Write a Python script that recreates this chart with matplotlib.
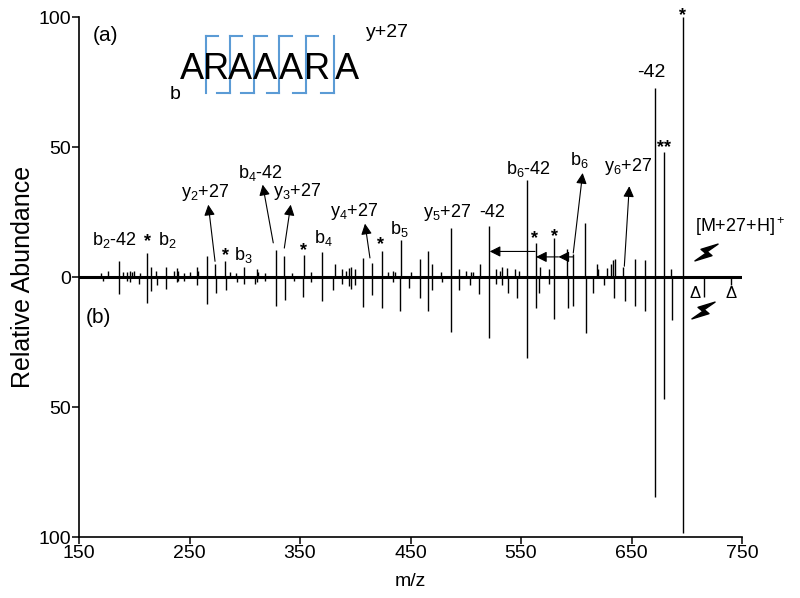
import numpy as np
import matplotlib
matplotlib.use('Agg')
import matplotlib.pyplot as plt
from matplotlib.path import Path
from matplotlib.markers import MarkerStyle
from matplotlib.transforms import Affine2D

plt.rcParams['font.family'] = ['Liberation Sans', 'DejaVu Sans']
plt.rcParams['mathtext.fontset'] = 'custom'
plt.rcParams['mathtext.rm'] = 'Liberation Sans'
plt.rcParams['mathtext.it'] = 'Liberation Sans:italic'

# spectrum (a) - top
mz_top = [170, 176, 186.5, 190, 193, 196, 198, 200, 205, 211.3, 214.9, 220, 228.4, 236,
          238.4, 240, 245, 250, 256.5, 258, 265.6, 273, 282.4, 287, 292, 299.3, 310.8, 312,
          318, 328, 335.8, 343, 353.3, 360, 370.2, 381.7, 387.7, 392, 394, 396.5, 400,
          407.3, 414.9, 424.2, 430, 434, 436, 441.4, 450, 458.6, 466.1, 469.7, 478, 486.6,
          494, 500, 505, 507, 512.9, 521.3, 527, 531, 533, 537, 545, 548, 555.1, 563.6, 567,
          575, 580.2, 591.2, 597.3, 607.9, 618.5, 620, 628, 631, 633, 635, 642, 653.2,
          662.2, 671.3, 679.4, 686, 696.3]
int_top = [1.5, 2.5, 6.1, 2, 2, 2.5, 2, 2.5, 1.5, 9.3, 4, 2.5, 4, 2.5,
           3.7, 2.5, 1.5, 2, 4, 2.5, 8, 5, 6.4, 2, 1.5, 4, 3, 2,
           1.5, 10.5, 8, 1.5, 8.5, 2, 9.8, 5, 3, 2.5, 3.5, 4, 3,
           7.3, 5.4, 10.2, 2, 2.5, 2, 14.4, 2, 7, 9.9, 5, 2, 18.9,
           3, 2.5, 2, 2, 5, 19.8, 3, 2.5, 4, 3.5, 3, 2.5, 37.5, 13.2, 4,
           3, 15.1, 10.9, 9, 20.9, 5, 3, 3.5, 5, 6.5, 7, 4, 7,
           6.5, 72.8, 48.1, 3, 100]

# spectrum (b) - bottom (mirrored)
mz_bot = [172, 186.5, 193, 196, 204, 211.3, 214.9, 220.3, 228.4, 238.4, 240, 245, 256.5,
          265.6, 273.6, 283, 293.2, 299.6, 309.3, 311, 318, 328.3, 336.4, 345, 353, 360,
          370.2, 380.2, 388, 394, 396, 400, 407.4, 414.9, 424, 434, 440.5, 448.9, 458.6,
          466.1, 469.2, 478.2, 486.4, 494.2, 503.8, 512.3, 521.3, 527, 533, 538.5, 546.1,
          555.7, 563.6, 566.6, 575, 580.2, 592.8, 597.3, 608.5, 615.4, 625, 634, 644,
          653.2, 662.2, 671.3, 679.4, 686.3, 696.3, 715.3, 740]
int_bot = [1.5, 6.5, 1.5, 2, 2.5, 10, 5.5, 3, 4.4, 2, 1.5, 1.5, 3,
           10.3, 6, 5, 1.7, 2.8, 2.5, 2, 1.5, 11, 8.6, 1.5, 7.6, 2,
           9, 5, 2.5, 3.5, 4.5, 3, 11.5, 7, 12, 2, 13, 4, 8,
           13, 5, 2, 21, 5, 3, 6.5, 23.4, 2.5, 3, 6, 8,
           31, 12, 6, 2.5, 16, 12, 11, 21.3, 6, 3, 8, 9,
           11.2, 13.2, 84.6, 46.8, 16.4, 98.3, 7.7, 3]

# sequence ARAAARA
residues = ['A', 'R', 'A', 'A', 'A', 'R', 'A']
res_mz = [252.5, 273.7, 295.7, 318.3, 341.5, 365.6, 392.2]

fig = plt.figure(figsize=(8, 5.98), dpi=100)
ax = fig.add_axes([0.09875, 0.102, 0.82875, 0.869])

ax.vlines(mz_top, 0, int_top, color='k', lw=1.0)
ax.vlines(mz_bot, 0, -np.array(int_bot), color='k', lw=1.0)
ax.axhline(0, color='k', lw=2.2, zorder=3)

ax.set_xlim(150, 750)
ax.set_ylim(-100, 100)
ax.set_xticks([150, 250, 350, 450, 550, 650, 750])
ax.set_yticks([-100, -50, 0, 50, 100])
ax.set_yticklabels(['100', '50', '0', '50', '100'])
ax.tick_params(direction='out', length=5, width=1.1, labelsize=14, pad=1)
for s in ['top', 'right']:
    ax.spines[s].set_visible(False)
for s in ['left', 'bottom']:
    ax.spines[s].set_linewidth(1.2)
ax.set_xlabel('m/z', fontsize=14, labelpad=8)
ax.set_ylabel('Relative Abundance', fontsize=18, labelpad=2)

ax.text(174, 93, '(a)', fontsize=15, ha='center', va='center')
ax.text(168, -15.6, '(b)', fontsize=15, ha='center', va='center')

# peptide sequence with fragment brackets
blue = '#5b9bd5'
for r, m in zip(residues, res_mz):
    ax.text(m, 76.2, r, fontsize=26, ha='center', va='baseline')
cuts = [(a + b) / 2 + 1.5 for a, b in zip(res_mz[:-1], res_mz[1:])]
for i, c in enumerate(cuts):
    ax.plot([c, c], [71, 92.9], color=blue, lw=1.5)
    if i < len(cuts) - 1:
        ax.plot([c, c + 11.5], [92.9, 92.9], color=blue, lw=1.5)
    if i > 0:
        ax.plot([c - 11.5, c], [71, 71], color=blue, lw=1.5)
ax.text(236.9, 70.3, 'b', fontsize=14, ha='center', va='center')
ax.text(429.6, 94.1, 'y+27', fontsize=14, ha='center', va='center')

# peak labels
lab = dict(fontsize=13, ha='center', va='center')
ax.text(181.7, 14.4, 'b$_2$-42', **lab)
ax.text(229.6, 14.4, 'b$_2$', **lab)
ax.text(298.4, 8.7, 'b$_3$', **lab)
ax.text(370.8, 15.2, 'b$_4$', **lab)
ax.text(439.6, 18.7, 'b$_5$', **lab)
ax.text(264, 32.5, 'y$_2$+27', **lab)
ax.text(313.8, 40.2, 'b$_4$-42', **lab)
ax.text(347.3, 32.9, 'y$_3$+27', **lab)
ax.text(398.9, 25.2, 'y$_4$+27', **lab)
ax.text(483, 24.8, 'y$_5$+27', **lab)
ax.text(524.2, 24.8, '-42', **lab)
ax.text(556.3, 41.8, 'b$_6$-42', **lab)
ax.text(602.5, 45.2, 'b$_6$', **lab)
ax.text(646.8, 42.5, 'y$_6$+27', **lab)
ax.text(667.6, 78.7, '-42', fontsize=14, ha='center', va='center')
ax.text(707.5, 19.4, '[M+27+H]$^+$', fontsize=13, ha='left', va='center')

star = dict(fontsize=13, ha='center', va='center', fontweight='bold')
for m, v in [(212.2, 13.6), (282.4, 8.2), (353.3, 10.4), (423, 12.7),
             (562, 15), (580.1, 15.5), (696.3, 100.6)]:
    ax.text(m, v, '*', clip_on=False, **star)
ax.text(679.4, 49.7, '**', **star)

for m in [707.5, 740]:
    ax.text(m, -6.4, '\u0394', fontsize=12, ha='center', va='center')

# arrows
arr = dict(arrowstyle='-|>', color='k', lw=0.8, mutation_scale=16, shrinkA=0, shrinkB=0)
for tail, head in [((273.1, 6.1), (267, 27.9)),
                   ((325.8, 13.2), (316.2, 35.6)),
                   ((335.8, 11.2), (341.6, 27.9)),
                   ((413.3, 7.4), (408.8, 20.6)),
                   ((597.3, 9.3), (605.8, 40.1)),
                   ((643.5, 4.2), (648, 35)),
                   ((562.7, 9.9), (521.7, 9.9)),
                   ((597.4, 7.8), (583.9, 7.8)),
                   ((583.9, 7.8), (563.6, 7.8))]:
    ax.annotate('', xy=head, xytext=tail, arrowprops=arr)

# lightning bolts
bolt = Path([(0.25, 1), (-0.45, -0.08), (0.0, -0.08), (-0.25, -1), (0.45, 0.08),
             (0.0, 0.08), (0.25, 1)], closed=True)
bm = MarkerStyle(bolt, transform=Affine2D().rotate_deg(-40))
ax.plot([717.4, 714.7], [9.8, -12.5], ls='none', marker=bm, ms=20, color='k',
        clip_on=False)

plt.savefig('out.png', dpi=100)
